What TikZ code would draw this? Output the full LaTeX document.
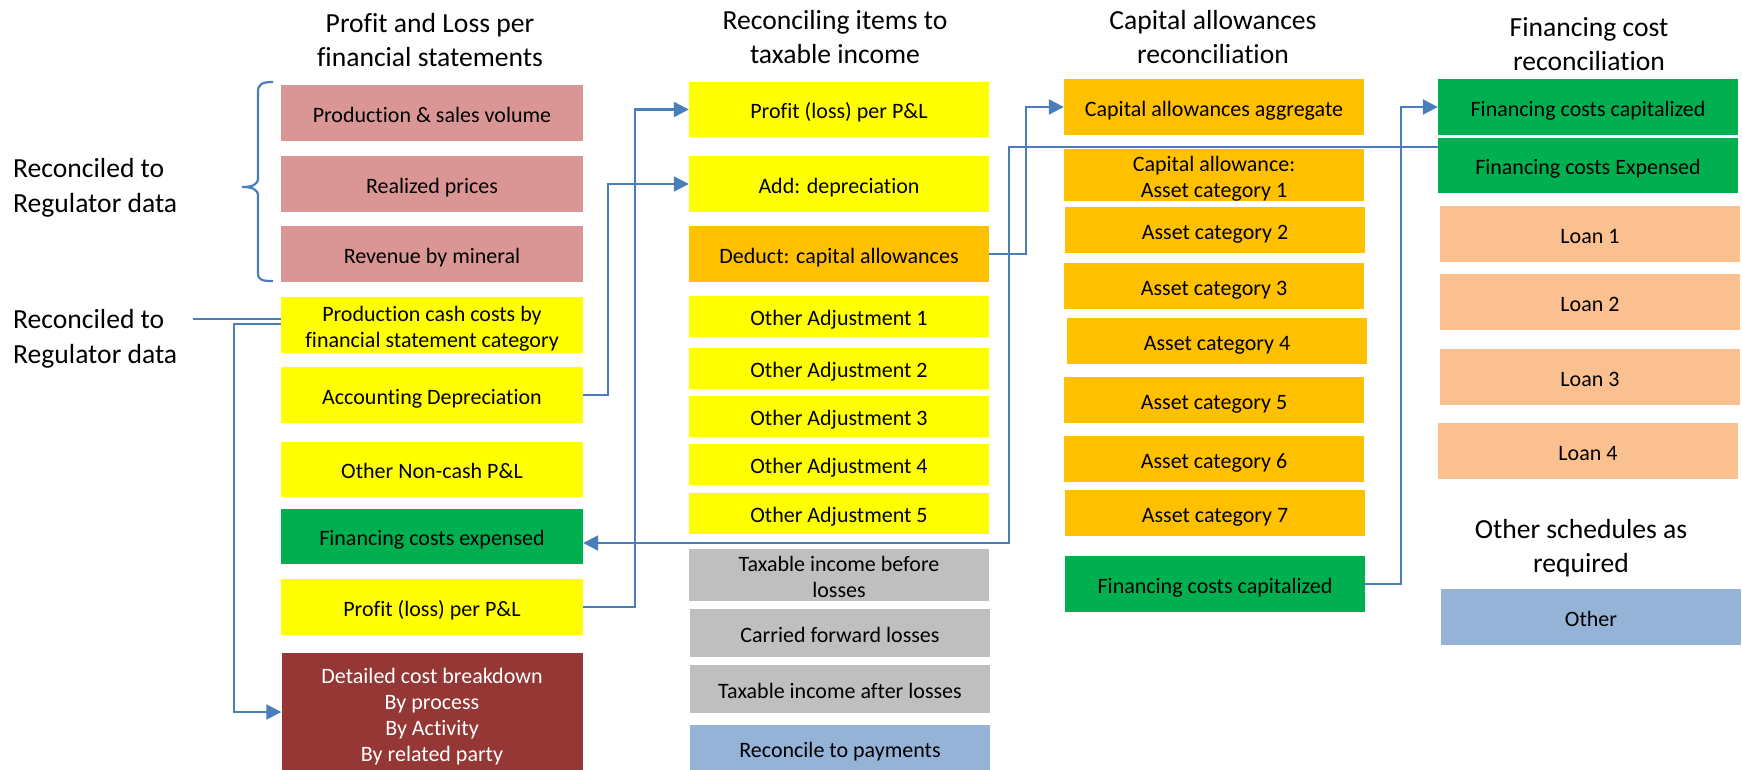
\documentclass[tikz,border=0pt]{standalone}
\usepackage{fontspec}
\setmainfont{Carlito}[Ligatures={NoCommon}]
\usetikzlibrary{arrows.meta}

\definecolor{rose}{HTML}{D99694}
\definecolor{lemon}{HTML}{FFFF00}
\definecolor{amber}{HTML}{FFC000}
\definecolor{leaf}{HTML}{00B050}
\definecolor{brick}{HTML}{953735}
\definecolor{silver}{HTML}{BFBFBF}
\definecolor{sky}{HTML}{95B3D7}
\definecolor{peach}{HTML}{FAC090}
\definecolor{wire}{HTML}{4A7EBB}

% box text: rows on a fixed line pitch, set a little low as in a text box
\newcommand\bxt[1]{\raisebox{-4pt}[\height][\depth]{\begin{tabular}{@{}c@{}}#1\end{tabular}}}

\tikzset{
  item/.style={rectangle, inner sep=0pt, text=black,
    font=\fontsize{22}{26}\selectfont, minimum width=300pt},
  pinkbox/.style={item, fill=rose},
  yellowbox/.style={item, fill=lemon},
  amberbox/.style={item, fill=amber},
  greenbox/.style={item, fill=leaf},
  brickbox/.style={item, fill=brick, text=white},
  greybox/.style={item, fill=silver},
  bluebox/.style={item, fill=sky},
  peachbox/.style={item, fill=peach},
  heading/.style={align=center, inner sep=0pt,
    font=\fontsize{27.6}{34}\selectfont},
  sidenote/.style={align=left, anchor=west, inner sep=0pt,
    font=\fontsize{27.6}{35}\selectfont},
  link/.style={draw=wire, line width=2.2pt},
  flow/.style={link, -{Triangle[length=15pt,width=15pt]}},
}

\begin{document}
\begin{tikzpicture}[x=1pt, y=-1pt]
\useasboundingbox (0,0) rectangle (1742,769);

% column headings
\node[heading] (h1) at (430,40) {Profit and Loss per\\financial statements};
\node[heading] (h2) at (835,37) {Reconciling items to\\taxable income};
\node[heading] (h3) at (1213,37) {Capital allowances\\reconciliation};
\node[heading] (h4) at (1589,44) {Financing cost\\reconciliation};

% side notes
\node[sidenote] (n1) at (13,188) {Reconciled to\\Regulator data};
\node[sidenote] (n2) at (13,339) {Reconciled to\\Regulator data};

% profit and loss column
\node[pinkbox, minimum width=302pt, minimum height=56pt] (psv) at (432,113) {\bxt{Production \& sales volume}};
\node[pinkbox, minimum width=302pt, minimum height=56pt] (rp) at (432,184) {\bxt{Realized prices}};
\node[pinkbox, minimum width=302pt, minimum height=56pt] (rev) at (432,254) {\bxt{Revenue by mineral}};
\node[yellowbox, minimum width=302pt, minimum height=56pt] (pcc) at (432,325) {\bxt{Production cash costs by\\financial statement category}};
\node[yellowbox, minimum width=302pt, minimum height=56pt] (dep) at (432,395) {\bxt{Accounting Depreciation}};
\node[yellowbox, minimum width=302pt, minimum height=55pt] (onc) at (432,469.5) {\bxt{Other Non-cash P\&L}};
\node[greenbox, minimum width=302pt, minimum height=55pt] (fce) at (432,536.5) {\bxt{Financing costs expensed}};
\node[yellowbox, minimum width=302pt, minimum height=56pt] (pl1) at (432,607) {\bxt{Profit (loss) per P\&L}};
\node[brickbox, minimum width=301pt, minimum height=120pt] (dcb) at (432,713) {\bxt{Detailed cost breakdown\\By process\\By Activity\\By related party}};

% reconciling items column
\node[yellowbox, minimum height=55pt] (pl2) at (839,109.5) {\bxt{Profit (loss) per P\&L}};
\node[yellowbox, minimum height=56pt] (add) at (839,184) {\bxt{Add: depreciation}};
\node[amberbox, minimum height=56pt] (ded) at (839,254) {\bxt{Deduct: capital allowances}};
\node[yellowbox, minimum height=41pt] (oa1) at (839,316.5) {\bxt{Other Adjustment 1}};
\node[yellowbox, minimum height=41pt] (oa2) at (839,368.5) {\bxt{Other Adjustment 2}};
\node[yellowbox, minimum height=41pt] (oa3) at (839,416.5) {\bxt{Other Adjustment 3}};
\node[yellowbox, minimum height=41pt] (oa4) at (839,464.5) {\bxt{Other Adjustment 4}};
\node[yellowbox, minimum height=41pt] (oa5) at (839,513.5) {\bxt{Other Adjustment 5}};
\node[greybox, minimum height=48pt] (tib) at (839,575) {\bxt{Taxable income before\\losses}};
\node[greybox, minimum height=48pt] (cfl) at (840,633) {\bxt{Carried forward losses}};
\node[greybox, minimum height=48pt] (tia) at (840,689) {\bxt{Taxable income after losses}};
\node[bluebox, minimum height=47pt] (rtp) at (840,748.5) {\bxt{Reconcile to payments}};

% capital allowances column
\node[amberbox, minimum height=56pt] (caa) at (1214,107) {\bxt{Capital allowances aggregate}};
\node[amberbox, minimum height=46pt] (ac1) at (1214,175) {\bxt{Capital allowance:\\Asset category 1}};
\node[amberbox, minimum height=46pt] (ac2) at (1215,230) {\bxt{Asset category 2}};
\node[amberbox, minimum height=46pt] (ac3) at (1214,286) {\bxt{Asset category 3}};
\node[amberbox, minimum height=46pt] (ac4) at (1217,341) {\bxt{Asset category 4}};
\node[amberbox, minimum height=46pt] (ac5) at (1214,400) {\bxt{Asset category 5}};
\node[amberbox, minimum height=46pt] (ac6) at (1214,459) {\bxt{Asset category 6}};
\node[amberbox, minimum height=46pt] (ac7) at (1215,513) {\bxt{Asset category 7}};
\node[greenbox, minimum height=56pt] (fcc3) at (1215,584) {\bxt{Financing costs capitalized}};

% financing cost column
\node[greenbox, minimum height=56pt] (fcc4) at (1588,107) {\bxt{Financing costs capitalized}};
\node[greenbox, minimum height=55pt] (fex4) at (1588,165.5) {\bxt{Financing costs Expensed}};
\node[peachbox, minimum height=56pt] (ln1) at (1590,234) {\bxt{Loan 1}};
\node[peachbox, minimum height=56pt] (ln2) at (1590,302) {\bxt{Loan 2}};
\node[peachbox, minimum height=56pt] (ln3) at (1590,377) {\bxt{Loan 3}};
\node[peachbox, minimum height=56pt] (ln4) at (1588,451) {\bxt{Loan 4}};
\node[heading] (h5) at (1581,548) {Other schedules as\\required};
\node[bluebox, minimum height=56pt] (oth) at (1591,617) {\bxt{Other}};

% brace grouping the first three items
\draw[link] (273,82) .. controls (262,82) and (258,84) .. (258,92)
  -- (258,178) .. controls (258,185) and (252,187) .. (242,187)
  .. controls (252,187) and (258,189) .. (258,196)
  -- (258,273) .. controls (258,280) and (262,281) .. (273,281);

% connectors
\coordinate (n2end) at (193,319);
\draw[link] (n2end) -- ([yshift=6pt]pcc.west);
\draw[flow] ([yshift=1pt]pcc.west) -- ++(-47,0) |- ([yshift=1pt]dcb.west);
\draw[flow] (dep.east) -- ++(25,0) |- (add.west);
\draw[flow] (pl1.east) -- ++(52,0) |- (pl2.west);
\draw[flow] (ded.east) -- ++(37,0) |- (caa.west);
\draw[flow] ([yshift=18.5pt]fex4.west) -- ++(-429,0) |- ([yshift=-6.5pt]fce.east);
\draw[flow] (fcc3.east) -- ++(36,0) |- (fcc4.west);
\end{tikzpicture}
\end{document}
